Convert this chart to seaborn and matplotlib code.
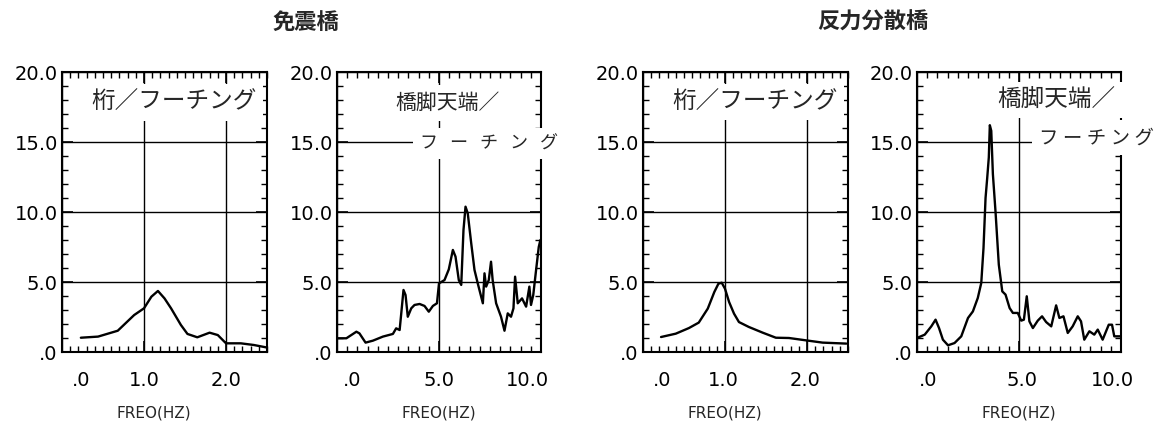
import matplotlib
matplotlib.use('Agg')
import matplotlib.pyplot as plt
import matplotlib.transforms as mtransforms
from matplotlib.ticker import MultipleLocator, FixedLocator
import seaborn as sns
import pandas as pd

# panel 1: 免震橋  桁/フーチング
f1 = [0.23, 0.44, 0.68, 0.88, 1.0, 1.09, 1.17, 1.25, 1.33, 1.45, 1.53, 1.65, 1.80, 1.90, 2.0, 2.18, 2.34, 2.49]
a1 = [1.02, 1.1, 1.52, 2.64, 3.12, 3.95, 4.36, 3.83, 3.12, 1.93, 1.29, 1.05, 1.38, 1.21, 0.62, 0.62, 0.5, 0.33]

# panel 2: 免震橋  橋脚天端/フーチング
f2 = [0.0, 0.46, 0.95, 1.1, 1.4, 1.76, 2.25, 2.74, 2.9, 3.07, 3.15, 3.26, 3.36, 3.47, 3.64, 3.8, 4.05,
      4.29, 4.5, 4.7, 4.9, 5.0, 5.27, 5.48, 5.68, 5.81, 5.97, 6.09, 6.2, 6.3, 6.41, 6.58, 6.74, 6.9,
      7.15, 7.23, 7.31, 7.44, 7.55, 7.63, 7.8, 8.04, 8.21, 8.37, 8.53, 8.65, 8.73, 8.86, 9.07, 9.27,
      9.43, 9.51, 9.62, 9.75, 9.89, 9.97]
a2 = [0.98, 0.98, 1.45, 1.33, 0.67, 0.81, 1.1, 1.29, 1.69, 1.57, 2.76, 4.43, 4.07, 2.52, 3.12, 3.36, 3.43,
      3.29, 2.88, 3.29, 3.48, 4.9, 5.14, 5.9, 7.29, 6.81, 5.14, 4.79, 8.71, 10.38, 9.9, 7.76, 5.86, 4.9,
      3.48, 5.62, 4.67, 5.14, 6.45, 5.14, 3.48, 2.52, 1.52, 2.76, 2.52, 3.12, 5.38, 3.48, 3.83, 3.24,
      4.67, 3.36, 4.07, 5.74, 7.5, 8.0]

# panel 3: 反力分散橋  桁/フーチング
f3 = [0.22, 0.40, 0.56, 0.68, 0.79, 0.87, 0.92, 0.96, 1.0, 1.05, 1.11, 1.17, 1.29, 1.46, 1.62, 1.78, 1.99, 2.19, 2.48]
a3 = [1.07, 1.31, 1.71, 2.1, 3.1, 4.29, 4.88, 4.95, 4.52, 3.57, 2.74, 2.14, 1.79, 1.38, 1.02, 1.0, 0.83, 0.67, 0.6]

# panel 4: 反力分散橋  橋脚天端/フーチング
f4 = [0.0, 0.38, 0.7, 0.91, 1.08, 1.27, 1.52, 1.84, 2.17, 2.5, 2.74, 2.98, 3.15, 3.26, 3.36, 3.44, 3.52,
      3.57, 3.64, 3.72, 3.85, 4.01, 4.18, 4.34, 4.54, 4.7, 4.94, 5.11, 5.24, 5.38, 5.51, 5.68, 5.92,
      6.13, 6.33, 6.58, 6.82, 6.98, 7.18, 7.39, 7.63, 7.88, 8.04, 8.2, 8.45, 8.69, 8.86, 9.1, 9.4,
      9.56, 9.67, 10.0]
a4 = [1.0, 1.24, 1.83, 2.31, 1.71, 0.88, 0.48, 0.64, 1.12, 2.43, 2.9, 3.86, 4.93, 7.43, 11.0, 12.4, 13.9,
      16.2, 15.8, 12.7, 10.0, 6.24, 4.33, 4.1, 3.14, 2.79, 2.79, 2.24, 2.31, 3.98, 2.19, 1.71, 2.24,
      2.55, 2.14, 1.83, 3.33, 2.43, 2.55, 1.36, 1.83, 2.55, 2.19, 0.88, 1.48, 1.24, 1.6, 0.88, 1.95,
      1.95, 1.12, 1.12]

titles = ['免震橋', '反力分散橋']
y_ticks = [0, 5, 10, 15, 20]
y_labels = ['.0', '5.0', '10.0', '15.0', '20.0']
x_ticks_a = [0, 1, 2]
x_labels_a = ['.0', '1.0', '2.0']
x_ticks_b = [0, 5, 10]
x_labels_b = ['.0', '5.0', '10.0']

sns.set_style('ticks')
plt.rcParams['font.family'] = ['DejaVu Sans', 'Noto Sans CJK JP']
jp = ['Noto Sans CJK JP', 'DejaVu Sans']

fig = plt.figure(figsize=(11.63, 4.28), dpi=100)
W, H = 1163, 428
lefts = [62, 337, 643, 917]
widths = [205, 204, 205, 204]
bottom = 1 - 352 / H
height = 280 / H

panels = [
    (f1, a1, 2.5, x_ticks_a, x_labels_a, 0.1, (19, 0, 0), 0.45),
    (f2, a2, 10, x_ticks_b, x_labels_b, 0.5, (15, 0, -14), 0.5),
    (f3, a3, 2.5, x_ticks_a, x_labels_a, 0.1, (19, -2, -2), 0.40),
    (f4, a4, 10, x_ticks_b, x_labels_b, 0.5, (11, 3, -9), 0.5),
]

white = dict(facecolor='white', edgecolor='none', pad=5)
axes = []
for i, (fx, ay, xmax, xt, xl, minor, offs, labx) in enumerate(panels):
    ax = fig.add_axes([lefts[i] / W, bottom, widths[i] / W, height])
    df = pd.DataFrame({'freq': fx, 'amp': ay})
    sns.lineplot(data=df, x='freq', y='amp', ax=ax, color='black', linewidth=1.7, zorder=2)
    ax.set_xlim(0, xmax)
    ax.set_ylim(0, 20)
    ax.xaxis.set_major_locator(FixedLocator(xt))
    ax.set_xticklabels(xl)
    ax.xaxis.set_minor_locator(MultipleLocator(minor))
    ax.set_yticks(y_ticks)
    ax.set_yticklabels(y_labels)
    ax.yaxis.set_minor_locator(MultipleLocator(1))
    ax.grid(True, which='major', color='black', linewidth=1.0)
    ax.tick_params(which='both', direction='in', top=True, right=True, colors='black')
    ax.tick_params(which='major', length=8, width=1.2)
    ax.tick_params(which='minor', length=4, width=1.0)
    ax.tick_params(axis='x', which='major', pad=14, labelsize=14)
    ax.tick_params(axis='y', which='major', pad=3, labelsize=14)
    for s in ax.spines.values():
        s.set_linewidth(1.5)
        s.set_color('black')
    for lab, dx in zip(ax.get_xticklabels(), offs):
        lab.set_transform(lab.get_transform() + mtransforms.ScaledTranslation(dx / 100, 0, fig.dpi_scale_trans))
    ax.set_xlabel('FREO(HZ)', fontsize=11)
    ax.xaxis.set_label_coords(labx, -0.19)
    ax.set_ylabel('')
    axes.append(ax)

# labels inside panels
axes[0].text(1.36, 17.8, '桁／フーチング', family=jp, fontsize=17, ha='center', va='center', bbox=white, zorder=4)
axes[2].text(1.36, 17.85, '桁／フーチング', family=jp, fontsize=17, ha='center', va='center', bbox=white, zorder=4)
axes[1].text(5.43, 17.8, '橋脚天端／', family=jp, fontsize=15, ha='center', va='center', bbox=white, zorder=4)
axes[1].text(7.44, 14.9, 'フ   ー   チ   ン   グ', family=jp, fontsize=13, ha='center', va='center',
             bbox=white, zorder=4, clip_on=False)
axes[3].text(6.85, 18.0, '橋脚天端／', family=jp, fontsize=17, ha='center', va='center', bbox=white, zorder=4)
axes[3].text(8.81, 15.3, 'フ ー チ ン グ', family=jp, fontsize=14, ha='center', va='center',
             bbox=white, zorder=4, clip_on=False)

fig.text(306 / W, 1 - 22 / H, titles[0], family=jp, fontsize=16, fontweight='bold', ha='center', va='center')
fig.text(873 / W, 1 - 22 / H, titles[1], family=jp, fontsize=16, fontweight='bold', ha='center', va='center')

fig.savefig('out.png', dpi=100, facecolor='white')
